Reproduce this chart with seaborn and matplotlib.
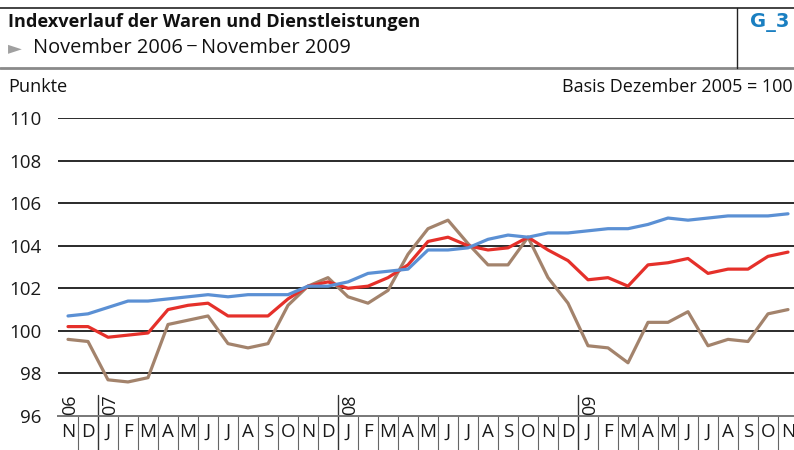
import matplotlib
matplotlib.use("Agg")
import matplotlib.pyplot as plt
import matplotlib.transforms as mtransforms
import seaborn as sns
import pandas as pd
import numpy as np

months = ["N", "D",
          "J", "F", "M", "A", "M", "J", "J", "A", "S", "O", "N", "D",
          "J", "F", "M", "A", "M", "J", "J", "A", "S", "O", "N", "D",
          "J", "F", "M", "A", "M", "J", "J", "A", "S", "O", "N"]
year_labels = ["06", "07", "08", "09"]
year_starts = [0, 2, 14, 26]

dienstleistungen = [100.7, 100.8, 101.1, 101.4, 101.4, 101.5, 101.6, 101.7, 101.6, 101.7,
                    101.7, 101.7, 102.1, 102.1, 102.3, 102.7, 102.8, 102.9, 103.8, 103.8,
                    103.9, 104.3, 104.5, 104.4, 104.6, 104.6, 104.7, 104.8, 104.8, 105.0,
                    105.3, 105.2, 105.3, 105.4, 105.4, 105.4, 105.5]
insgesamt = [100.2, 100.2, 99.7, 99.8, 99.9, 101.0, 101.2, 101.3, 100.7, 100.7,
             100.7, 101.5, 102.1, 102.3, 102.0, 102.1, 102.5, 103.1, 104.2, 104.4,
             104.0, 103.8, 103.9, 104.4, 103.8, 103.3, 102.4, 102.5, 102.1, 103.1,
             103.2, 103.4, 102.7, 102.9, 102.9, 103.5, 103.7]
waren = [99.6, 99.5, 97.7, 97.6, 97.8, 100.3, 100.5, 100.7, 99.4, 99.2,
         99.4, 101.2, 102.1, 102.5, 101.6, 101.3, 101.9, 103.6, 104.8, 105.2,
         104.1, 103.1, 103.1, 104.4, 102.5, 101.3, 99.3, 99.2, 98.5, 100.4,
         100.4, 100.9, 99.3, 99.6, 99.5, 100.8, 101.0]

colors = {"Dienstleistungen": "#5b90d4", "Insgesamt": "#e5302a", "Waren": "#a3836c"}

idx = list(range(len(months)))
df = pd.concat([
    pd.DataFrame({"t": idx, "wert": dienstleistungen, "reihe": "Dienstleistungen"}),
    pd.DataFrame({"t": idx, "wert": insgesamt, "reihe": "Insgesamt"}),
    pd.DataFrame({"t": idx, "wert": waren, "reihe": "Waren"}),
])

sns.set_theme(style="white")
plt.rcParams["font.family"] = ["Open Sans", "DejaVu Sans"]

W, H = 794, 450
fig = plt.figure(figsize=(W / 100, H / 100), dpi=100)
ax = fig.add_axes([58 / W, 1 - 416 / H, (794 - 58) / W, (416 - 118) / H])

ax.set_ylim(96, 110)
ax.set_xlim(-0.5, 36.3)
yt = [96, 98, 100, 102, 104, 106, 108, 110]
for v in yt[1:]:
    ax.axhline(v, color="#2a2a2a", lw=1.4, zorder=1)

sns.lineplot(data=df, x="t", y="wert", hue="reihe", hue_order=["Waren", "Insgesamt", "Dienstleistungen"],
             palette=colors, linewidth=2.3, legend=False, ax=ax, zorder=3)

for s in ["top", "right", "left"]:
    ax.spines[s].set_visible(False)
ax.spines["bottom"].set_color("#777777")
ax.spines["bottom"].set_linewidth(1.4)

ax.set_yticks(yt)
ax.set_yticklabels([str(v) for v in yt], fontsize=13.5, color="#1a1a1a")
ax.tick_params(axis="y", length=0, pad=12)
ax.set_xticks(idx)
ax.set_xticklabels(months, fontsize=13.5, color="#1a1a1a")
ax.tick_params(axis="x", length=0, pad=5)
ax.set_xlabel("")
ax.set_ylabel("")

trans = mtransforms.blended_transform_factory(ax.transData, fig.transFigure)
for k in range(1, len(months)):
    b = k - 0.5
    if k in year_starts:
        ax.plot([b, b], [1 - 395 / H, 0], transform=trans, color="#333333", lw=1.0, clip_on=False)
    else:
        ax.plot([b, b], [1 - 416 / H, 0], transform=trans, color="#666666", lw=0.8, clip_on=False)
for lab, s in zip(year_labels, year_starts):
    ax.text(s - 0.5 + 0.62, 1 - 405 / H, lab, transform=trans, rotation=90,
            ha="center", va="center", fontsize=13, color="#1a1a1a")

# header
fig.add_artist(plt.Line2D([0, 1], [1 - 8 / H, 1 - 8 / H], transform=fig.transFigure, color="#222222", lw=1.2))
fig.add_artist(plt.Line2D([0, 1], [1 - 68 / H, 1 - 68 / H], transform=fig.transFigure, color="#8a8a8a", lw=2.0))
fig.add_artist(plt.Line2D([737 / W, 737 / W], [1 - 8 / H, 1 - 68 / H], transform=fig.transFigure, color="#222222", lw=1.0))
fig.text(8 / W, 1 - 22 / H, "Indexverlauf der Waren und Dienstleistungen", fontsize=13.1, fontweight="bold",
         ha="left", va="center", color="#111111")
fig.text(8 / W, 1 - 48 / H, "►", fontsize=13, ha="left", va="center", color="#a0a0a0",
         family=["DejaVu Sans"])
fig.text(33 / W, 1 - 48 / H, "November 2006\u2009\u2212\u2009November 2009", fontsize=14.4, ha="left", va="center",
         color="#111111", family=["Open Sans", "DejaVu Sans"])
fig.text(770 / W, 1 - 22 / H, "G_3", fontsize=14, fontweight="bold", ha="center", va="center",
         color="#1a7fc1", family=["Liberation Sans Narrow", "DejaVu Sans"])
fig.text(8 / W, 1 - 87 / H, "Punkte", fontsize=13.1, ha="left", va="center", color="#111111")
fig.text(793 / W, 1 - 87 / H, "Basis Dezember 2005 = 100", fontsize=13.0, ha="right", va="center", color="#111111")

fig.savefig("out.png", dpi=100)
